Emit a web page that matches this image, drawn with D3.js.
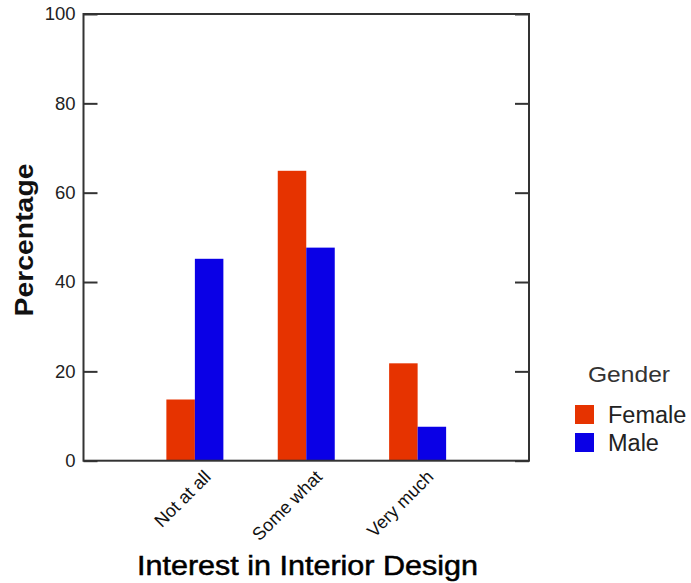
<!DOCTYPE html>
<html>
<head>
<meta charset="utf-8">
<script src="https://cdn.jsdelivr.net/npm/d3@7"></script>
<style>
  html, body { margin: 0; padding: 0; background: #fff; }
  svg { display: block; font-family: "Liberation Sans", Arial, sans-serif; }
</style>
</head>
<body>
<svg id="chart" width="691" height="583"></svg>
<script>
const categories = ["Not at all", "Some what", "Very much"];
const seriesNames = ["Female", "Male"];
const femaleValues = [13.7, 64.9, 21.8];
const maleValues = [45.2, 47.7, 7.6];
const yTicks = [0, 20, 40, 60, 80, 100];
const colors = ["#E63300", "#0A00E6"];

const svg = d3.select("#chart");
const plotLeft = 83.5, plotRight = 529, plotTop = 14, plotBottom = 460.7;

const x = d3.scalePoint().domain(categories).range([plotLeft, plotRight]).padding(1);
const y = d3.scaleLinear().domain([0, 100]).range([plotBottom, plotTop]);
const barW = 28.5;
const xs = d3.scaleBand().domain(seriesNames).range([-barW, barW]).padding(0);

const data = [femaleValues, maleValues];

// bars
seriesNames.forEach((s, si) => {
  svg.append("g").selectAll("rect")
    .data(categories.map((c, i) => ({ c, v: data[si][i] })))
    .join("rect")
    .attr("x", d => x(d.c) + xs(s))
    .attr("y", d => y(d.v))
    .attr("width", xs.bandwidth())
    .attr("height", d => y(0) - y(d.v))
    .attr("fill", colors[si]);
});

// frame
svg.append("rect")
  .attr("x", plotLeft).attr("y", plotTop)
  .attr("width", plotRight - plotLeft).attr("height", plotBottom - plotTop)
  .attr("fill", "none").attr("stroke", "#333").attr("stroke-width", 2);

// left axis
const yAxis = svg.append("g").attr("transform", `translate(${plotLeft},0)`)
  .call(d3.axisLeft(y).tickValues(yTicks).tickSize(-14).tickPadding(8));
yAxis.select(".domain").remove();
yAxis.selectAll(".tick line").attr("stroke", "#333").attr("stroke-width", 2);
yAxis.selectAll(".tick text").attr("font-size", 18.5).attr("fill", "#222")
  .attr("font-family", "Liberation Sans, Arial, sans-serif");

// right axis ticks
const yAxisR = svg.append("g").attr("transform", `translate(${plotRight},0)`)
  .call(d3.axisRight(y).tickValues(yTicks).tickSize(-14).tickFormat(""));
yAxisR.select(".domain").remove();
yAxisR.selectAll(".tick line").attr("stroke", "#333").attr("stroke-width", 2);

// category labels
svg.append("g").selectAll("text")
  .data(categories)
  .join("text")
  .attr("transform", d => `translate(${x(d) + 17},${478}) rotate(-45)`)
  .attr("text-anchor", "end")
  .attr("font-size", 18)
  .attr("fill", "#111")
  .text(d => d);

// axis titles
svg.append("text")
  .attr("x", (137 + 478) / 2).attr("y", 575)
  .attr("text-anchor", "middle")
  .attr("font-size", 27)
  .attr("textLength", 341).attr("lengthAdjust", "spacingAndGlyphs")
  .attr("fill", "#000")
  .attr("stroke", "#000").attr("stroke-width", 0.5)
  .text("Interest in Interior Design");

svg.append("text")
  .attr("transform", `translate(33,240) rotate(-90)`)
  .attr("text-anchor", "middle")
  .attr("font-size", 25)
  .attr("font-weight", "bold")
  .attr("textLength", 153).attr("lengthAdjust", "spacingAndGlyphs")
  .attr("fill", "#111")
  .text("Percentage");

// legend
const lg = svg.append("g");
lg.append("text").attr("x", 588).attr("y", 382)
  .attr("font-size", 22).attr("fill", "#333")
  .attr("textLength", 82).attr("lengthAdjust", "spacingAndGlyphs")
  .text("Gender");
seriesNames.forEach((s, i) => {
  const yy = 405 + i * 28;
  lg.append("rect").attr("x", 575).attr("y", yy).attr("width", 19).attr("height", 19)
    .attr("fill", colors[i]);
  lg.append("text").attr("x", 608).attr("y", yy + 18)
    .attr("font-size", 23.5).attr("fill", "#222")
    .text(s);
});
</script>
</body>
</html>
